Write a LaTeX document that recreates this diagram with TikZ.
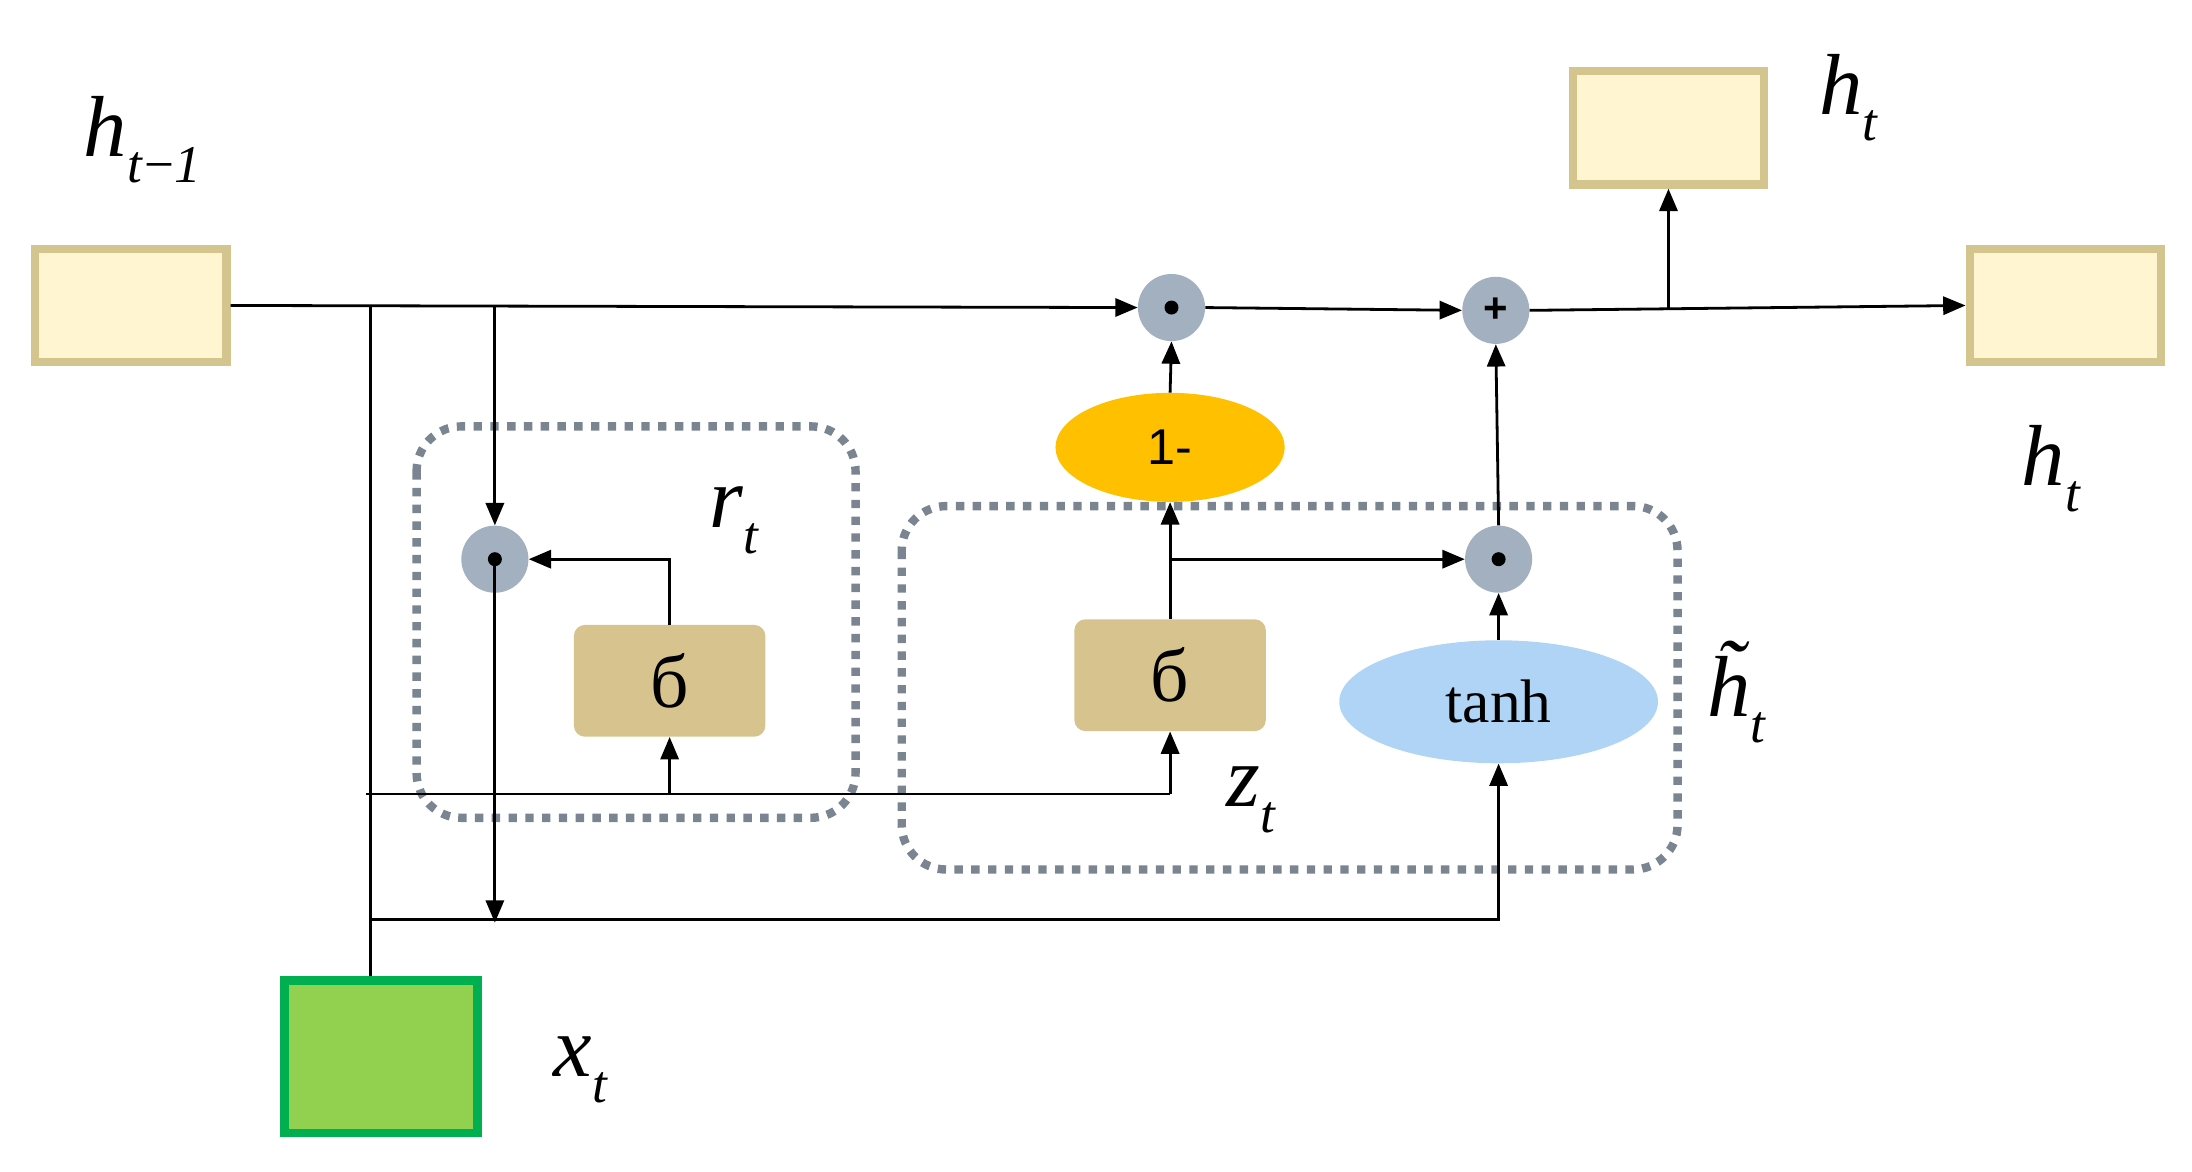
\documentclass[tikz,border=0pt]{standalone}
\usepackage{fontspec}
\newfontfamily\serifL{Liberation Serif}
\newfontfamily\sansL{Liberation Sans}
\usetikzlibrary{arrows.meta,shapes.geometric}
\definecolor{boxf}{HTML}{FFF5D0}
\definecolor{boxd}{HTML}{D4C58F}
\definecolor{gatef}{HTML}{A3B0C0}
\definecolor{sigf}{HTML}{D6C38D}
\definecolor{dashc}{HTML}{7A8591}
\definecolor{orng}{HTML}{FFC000}
\definecolor{blu}{HTML}{B0D4F5}
\definecolor{grnf}{HTML}{92D050}
\definecolor{grnd}{HTML}{00B050}
\newcommand\mylbl[2]{#1\raisebox{-0.3em}{\fontsize{38}{38}\selectfont #2}}
\begin{document}
\begin{tikzpicture}[x=1pt,y=-1pt,
  hbox/.style={draw=boxd,fill=boxf,line width=6pt,minimum width=137pt,minimum height=81pt,inner sep=0pt},
  gate/.style={circle,fill=gatef,minimum size=48pt,inner sep=0pt},
  sig/.style={fill=sigf,rounded corners=8pt,minimum width=137pt,minimum height=80pt,inner sep=0pt,font=\serifL\fontsize{54}{54}\selectfont},
  dbox/.style={draw=dashc,line width=6pt,dash pattern=on 6pt off 6pt,rounded corners=32pt},
  ln/.style={line width=2pt},
  ar/.style={line width=2pt,-{Triangle[length=16pt,width=13pt]}},
  lab/.style={font=\serifL\itshape\fontsize{62}{62}\selectfont}]
\useasboundingbox (0,0) rectangle (1568,838);
% dashed boxes
\draw[dbox] (298,305) rectangle (612,585);
\draw[dbox] (645,362) rectangle (1200,622);
% nodes
\node[hbox] (hp) at (93.5,218.5) {};
\node[hbox] (htop) at (1193.5,91.5) {};
\node[hbox] (hout) at (1477.5,218.5) {};
\node[draw=grnd,fill=grnf,line width=6pt,minimum width=138pt,minimum height=109pt,inner sep=0pt] (x) at (272.5,756) {};
\node[gate] (g1) at (838,220) {};
\fill (g1) circle (5pt);
\node[gate,font=\sansL\bfseries\fontsize{30}{30}\selectfont] (g2) at (1070,222) {+};
\node[gate] (gr) at (354,400) {};
\fill (gr) circle (5pt);
\node[gate] (g3) at (1072,400) {};
\fill (g3) circle (5pt);
\node[ellipse,fill=orng,minimum width=164pt,minimum height=78pt,inner sep=0pt,font=\sansL\fontsize{36}{36}\selectfont] (om) at (837,320) {1-};
\node[ellipse,fill=blu,minimum width=228pt,minimum height=88pt,inner sep=0pt,font=\serifL\fontsize{44}{44}\selectfont] (th) at (1072,502) {tanh};
\node[sig] (s1) at (479,487) {б};
\node[sig] (s2) at (837,483) {б};
% labels
\node[lab] (lhp) at (102,100) {\mylbl{h}{t\kern2pt\textup{−}1}};
\node[lab] (lht1) at (1322,70) {\mylbl{h}{t}};
\node[lab] (lht2) at (1467,335) {\mylbl{h}{t}};
\node[lab] (lr) at (525,372) {\mylbl{r}{t}};
\node[lab] (lz) at (895,572) {\mylbl{z}{t}};
\node[lab] (lth) at (1242,495) {\mylbl{\~h}{t}};
\node[lab] (lx) at (415,765) {\mylbl{x}{t}};
% coordinates
\coordinate (a) at (265,218);
\coordinate (b) at (354,218);
\coordinate (c) at (354,660);
\coordinate (d) at (262,568);
\coordinate (e) at (479,568);
\coordinate (f) at (837,568);
\coordinate (g) at (265,658);
\coordinate (hh) at (1072,658);
\coordinate (k) at (837,400);
\coordinate (m) at (479,400);
\coordinate (sp) at (1193.5,220);
% connectors
\draw[ar] (hp.east) -- (g1.west);
\draw[ar] (g1.east) -- (g2.west);
\draw[ar] (g2.east) -- (hout.west);
\draw[ar] (sp) -- (htop.south);
\draw[ar] (om.north) -- (g1.south);
\draw[ar] (s2.north) -- (om.south);
\draw[ar] (k) -- (g3.west);
\draw[ar] (th.north) -- (g3.south);
\draw[ar] (g3.north) -- (g2.south);
\draw[ar] (b) -- (gr.north);
\draw[ar] (gr.center) -- (c);
\draw[ln] (a) -- (a |- x.north);
\draw[ar] (s1.north) -- (m) -- (gr.east);
\draw[ln] (d) -- (f);
\draw[ar] (e) -- (s1.south);
\draw[ar] (f) -- (s2.south);
\draw[ar] (g) -- (hh) -- (th.south);
\end{tikzpicture}
\end{document}
